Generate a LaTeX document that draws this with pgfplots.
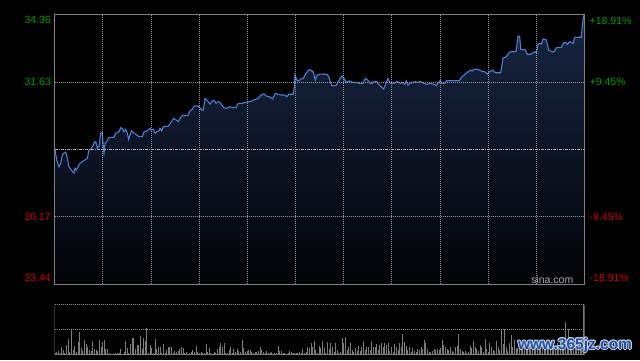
\documentclass[border=0pt]{standalone}
\usepackage{fontspec}
\setmainfont{Liberation Sans}
\usepackage{pgfplots}
\usepackage{pgfplotstable}
\pgfplotsset{compat=1.18}
\definecolor{upgreen}{RGB}{0,160,0}
\definecolor{downred}{RGB}{210,0,0}
\definecolor{pline}{RGB}{74,128,214}
\definecolor{gridc}{RGB}{150,150,150}
\definecolor{framec}{RGB}{128,128,128}
\definecolor{filltop}{RGB}{24,38,68}
\definecolor{fillbot}{RGB}{2,3,6}
\definecolor{volc}{RGB}{125,125,125}
\definecolor{wmblue}{RGB}{30,80,165}
\definecolor{wmhalo}{RGB}{200,212,232}

\pgfplotstableread{
x p
55 28.90
56.7 28.46
59 28.19
60.7 28.33
62.3 28.67
64 28.74
65.7 28.78
66.7 28.67
69 28.19
71.3 28.06
74 27.93
75 28.13
76.3 28.06
78 28.19
80 28.33
82.3 28.40
84.7 28.46
87.3 28.53
89 28.87
90.7 28.90
93.3 29.07
94.7 29.21
96.3 29.14
97.3 28.94
99 29.00
100.7 29.55
102.3 29.59
103.3 29.00
104 28.74
105 29.14
106.7 29.21
108.3 29.34
110 29.38
114 29.38
115.7 29.55
119 29.61
120.7 29.77
122.3 29.75
124 29.61
125.7 29.71
127.3 29.55
128.7 29.30
130 29.48
131.7 29.65
134 29.55
136.7 29.48
139 29.41
142.3 29.41
144 29.60
147.3 29.65
150 29.75
151.3 29.68
153.3 29.71
155 29.55
156.7 29.61
159 29.65
160 29.75
161.7 29.65
163.3 29.81
168.3 29.84
171.7 30.02
173.3 30.15
176 30.09
178.3 30.02
180.7 30.19
182.7 30.28
185 30.25
188.3 30.29
190 30.46
192.3 30.52
194.3 30.66
197.3 30.66
199.3 30.62
201.7 30.49
203.3 30.49
205 30.96
207.3 30.87
210 30.73
212.7 30.87
214.3 30.87
216 30.76
218.3 30.83
220 30.80
221.7 30.69
224 30.58
226.7 30.56
230 30.62
232.7 30.58
236 30.60
238.3 30.76
241.7 30.76
245 30.79
246.7 30.81
250 30.83
252.7 30.87
255 30.92
258.3 30.96
261 31.10
264 31.14
266 31.06
269.3 31.03
272.7 30.94
275.3 31.17
277.7 31.13
281 31.10
284.3 31.10
287 31.03
288.7 31.13
293.3 31.13
294.3 31.43
295 31.91
296.7 31.71
298.7 31.67
301 31.75
303.3 31.77
306 31.98
308.7 32.11
311 32.11
313.3 32.02
315.3 31.71
316.7 31.88
319.3 31.94
324.3 31.95
327.7 31.91
329.3 31.77
331.7 31.48
336 31.48
339.3 31.71
342 31.87
344.3 31.75
346 31.61
349.3 31.67
352.7 31.61
356 31.61
359.3 31.57
362.7 31.57
365.3 31.77
367.7 31.71
370 31.57
372 31.57
373.7 31.64
377 31.64
378.7 31.53
381.3 31.43
383.7 31.34
385.3 31.50
388 31.77
390.3 31.57
393.7 31.57
397 31.64
400.3 31.57
402.7 31.61
404.7 31.53
406.3 31.67
408 31.50
409.7 31.57
412 31.60
414.7 31.64
418 31.61
420.3 31.64
423.7 31.57
427 31.53
430.3 31.57
433.7 31.53
436.3 31.48
438 31.57
440.3 31.69
442 31.57
444.7 31.57
447 31.68
452 31.68
457 31.68
459.3 31.68
462 31.84
465.3 31.95
468 32.04
470.3 32.11
472 32.07
474.7 32.15
478 32.14
481.3 32.07
484.7 32.04
487.3 31.95
489.7 32.04
493 32.11
495.3 32.00
500.7 32.00
503 32.59
506.3 32.65
508.7 32.79
510.7 32.85
514 32.85
516.3 32.88
518 33.49
519.7 33.46
520.7 32.95
524.7 32.95
527.3 32.75
530.7 32.75
533 32.81
534.7 32.85
536.3 32.81
538 33.16
539.7 33.19
541.3 33.16
543 33.37
546.3 33.33
548.7 32.92
552 32.85
554 32.85
557 33.03
561.3 33.03
564 33.22
565.7 33.23
567.3 33.15
569.7 33.26
573 33.19
574.7 33.42
578 33.44
581.3 33.44
583 34.14
584 34.34
}\pricetab

\pgfplotstableread{
v
3
7
11
5
23
13
3
28
45
8
73
13
25
8
38
67
18
11
43
31
21
13
9
40
15
13
11
43
23
38
43
16
16
3
1
1
2
3
3
5
16
1
8
40
18
3
31
48
48
15
27
29
55
17
48
41
80
3
29
18
5
45
17
21
21
3
31
5
13
21
21
21
5
11
8
11
15
21
18
3
8
1
3
7
13
8
25
7
3
7
3
3
30
8
18
3
1
7
3
15
23
35
21
33
3
5
13
23
3
16
7
15
10
6
43
18
8
11
13
13
8
3
6
7
11
23
13
7
3
10
5
3
7
1
3
3
25
11
10
5
3
1
3
11
7
5
3
5
3
8
3
15
3
7
23
18
35
21
41
13
3
25
18
41
21
5
36
15
33
21
8
33
13
3
8
48
33
51
13
21
33
13
6
18
11
26
11
21
40
13
23
21
13
40
21
21
31
13
28
33
21
33
28
33
11
23
8
31
21
13
33
23
61
36
25
13
21
8
18
11
7
15
13
21
15
43
33
15
8
7
11
15
13
15
13
18
43
28
21
15
13
21
11
7
21
25
61
15
11
8
11
5
8
25
18
40
23
15
11
28
21
8
45
15
8
33
21
13
11
40
23
13
73
31
75
23
11
33
58
23
43
18
18
25
12
30
20
15
28
35
22
14
26
18
32
20
15
28
22
38
18
25
14
30
22
18
35
25
20
28
22
96
30
75
25
35
22
30
40
28
35
45
148
}\voltab

\begin{document}
\begin{tikzpicture}
\fill[black] (0pt,0pt) rectangle (640pt,360pt);
\begin{axis}[
  at={(54.5pt,76pt)}, anchor=south west,
  width=530pt, height=269.5pt, scale only axis,
  xmin=54.5, xmax=584.5, ymin=23.44, ymax=34.36,
  axis line style={framec, line width=0.8pt},
  xtick={102.68,150.86,199.05,247.23,295.41,343.59,391.77,439.95,488.14,536.32},
  ytick={26.17,31.63},
  extra y ticks={28.90},
  extra y tick style={major grid style={gridc!80!white, line width=0.7pt, dash pattern=on 3pt off 1pt on 1pt off 1pt}},
  xticklabels={}, yticklabels={}, extra y tick labels={},
  major tick length=0pt,
  grid=major,
  major grid style={gridc, line width=0.6pt, dash pattern=on 1pt off 1pt},
  axis on top,
]
\addplot[draw=none, top color=filltop, bottom color=fillbot] table[x=x, y=p] {\pricetab} |- (axis cs:55,23.44) -- cycle;
\addplot[pline, line width=1.1pt, mark=none] table[x=x, y=p] {\pricetab};
\end{axis}

\begin{axis}[
  at={(54.5pt,5.7pt)}, anchor=south west,
  width=530pt, height=49.6pt, scale only axis,
  xmin=-0.3, xmax=322.7, ymin=0, ymax=149,
  hide axis,
]
\draw[gridc, line width=0.6pt, dash pattern=on 1pt off 1pt] (rel axis cs:0,0.5) -- (rel axis cs:1,0.5);
\draw[gridc, line width=0.6pt, dash pattern=on 1pt off 1pt] (rel axis cs:0,1) -- (rel axis cs:1,1);
\addplot[ycomb, volc, line width=0.8pt, mark=none] table[x expr=\coordindex, y=v] {\voltab};
\draw[framec, line width=0.8pt] (rel axis cs:0,1) -- (rel axis cs:0,0) -- (rel axis cs:1,0) -- (rel axis cs:1,1);
\end{axis}

\begin{scope}[every node/.style={inner sep=0pt, font=\fontsize{10.5pt}{12pt}\selectfont}]
\node[anchor=east, text=upgreen] at (51pt,340pt) {34.36};
\node[anchor=east, text=upgreen] at (51pt,278.3pt) {31.63};
\node[anchor=east, text=downred] at (51pt,142.7pt) {26.17};
\node[anchor=east, text=downred] at (51pt,82.3pt) {23.44};
\node[anchor=west, text=upgreen] at (589.5pt,339.3pt) {+18.91\%};
\node[anchor=west, text=upgreen] at (589.5pt,278.3pt) {+9.45\%};
\node[anchor=west, text=downred] at (589.5pt,142.7pt) {-9.45\%};
\node[anchor=west, text=downred] at (589.5pt,82.3pt) {-18.91\%};
\node[text={rgb,255:red,170;green,170;blue,170}] at (552.3pt,80.7pt) {sina.com};
\end{scope}

\begin{scope}[every node/.style={inner sep=0pt, font=\bfseries\fontsize{15.5pt}{17pt}\selectfont}]
\foreach \dx/\dy in {-1/0,1/0,0/-1,0/1,-0.7/-0.7,0.7/0.7,-0.7/0.7,0.7/-0.7}{
  \node[text=wmhalo] at (575pt+\dx pt,15pt+\dy pt) {www.365jz.com};
}
\node[text=wmblue] at (575pt,15pt) {www.365jz.com};
\end{scope}
\end{tikzpicture}
\end{document}
